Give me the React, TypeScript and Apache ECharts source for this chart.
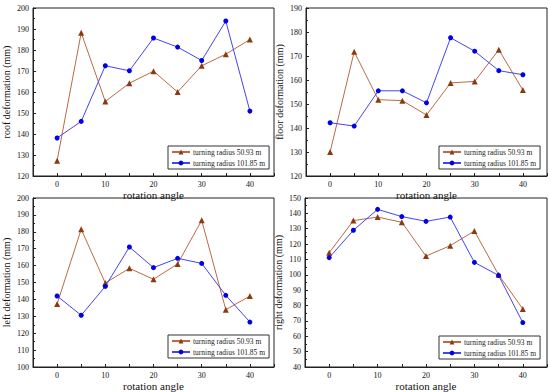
import React, { useEffect, useRef } from "react";
import * as echarts from "echarts";

const angles = [0, 5, 10, 15, 20, 25, 30, 35, 40];
const seriesNames = ["turning radius 50.93 m", "turning radius 101.85 m"];

const roof50 = [127.3, 188.2, 155.5, 164.2, 169.9, 160.0, 172.5, 178.0, 185.0];
const roof101 = [138.1, 146.0, 172.5, 170.1, 185.7, 181.4, 175.0, 193.8, 150.9];

const floor50 = [130.0, 171.8, 151.8, 151.4, 145.4, 158.8, 159.4, 172.6, 155.8];
const floor101 = [142.2, 140.8, 155.5, 155.5, 150.5, 177.6, 172.0, 163.9, 162.2];

const left50 = [137.3, 181.5, 149.7, 158.4, 151.9, 161.0, 186.8, 133.9, 142.0];
const left101 = [142.0, 130.6, 147.7, 171.0, 158.8, 164.3, 161.3, 142.4, 126.6];

const right50 = [114.4, 135.3, 137.6, 134.2, 112.2, 119.0, 128.5, 100.0, 77.8];
const right101 = [111.2, 129.0, 142.6, 137.9, 134.8, 137.6, 108.1, 99.6, 68.9];

const panels = [
  { yName: "roof deformation (mm)", yMin: 120, yMax: 200, a: roof50, b: roof101 },
  { yName: "floor deformation (mm)", yMin: 120, yMax: 190, a: floor50, b: floor101 },
  { yName: "left deformation (mm)", yMin: 100, yMax: 200, a: left50, b: left101 },
  { yName: "right deformation (mm)", yMin: 40, yMax: 150, a: right50, b: right101 },
];

const xName = "rotation angle";

const FONT = "'Times New Roman', 'Liberation Serif', serif";

export default function App() {
  const ref = useRef<HTMLDivElement>(null);
  useEffect(() => {
    document.body.style.margin = "0";
    const chart = echarts.init(ref.current!, null, { renderer: "svg" });
    const grids = [
      { left: 33, top: 8, width: 241, height: 168 },
      { left: 306, top: 8, width: 243, height: 168 },
      { left: 33, top: 198, width: 241, height: 169 },
      { left: 305, top: 198, width: 244, height: 169 },
    ];
    const legendPos = [
      { left: 168, top: 146 },
      { left: 439, top: 146 },
      { left: 168, top: 335 },
      { left: 439, top: 336 },
    ];
    const axisLine = { show: true, onZero: false, lineStyle: { color: "#222", width: 1 } };
    const xAxis = panels.map((_, i) => ({
      type: "value",
      gridIndex: i,
      min: -5,
      max: 45,
      interval: 5,
      name: xName,
      nameLocation: "middle",
      nameGap: 13,
      nameTextStyle: { fontFamily: FONT, fontSize: 11, color: "#111" },
      axisLine,
      axisTick: { show: true, inside: true, length: 3, lineStyle: { color: "#222" } },
      axisLabel: {
        fontFamily: FONT,
        fontSize: 8,
        color: "#111",
        margin: 4,
        formatter: (v: number) => (v >= 0 && v <= 40 && v % 10 === 0 ? String(v) : ""),
      },
      splitLine: { show: false },
    }));
    const yAxis = panels.map((p, i) => ({
      type: "value",
      gridIndex: i,
      min: p.yMin,
      max: p.yMax,
      interval: 10,
      name: p.yName,
      nameLocation: "middle",
      nameGap: 22,
      nameTextStyle: { fontFamily: FONT, fontSize: 10, color: "#111" },
      axisLine,
      axisTick: { show: true, inside: true, length: 3, lineStyle: { color: "#222" } },
      minorTick: { show: true, splitNumber: 2, length: 2, lineStyle: { color: "#222" } },
      axisLabel: { fontFamily: FONT, fontSize: 8, color: "#111", margin: 4 },
      splitLine: { show: false },
    }));
    const series: any[] = [];
    panels.forEach((p, i) => {
      series.push({
        type: "line",
        name: seriesNames[0],
        xAxisIndex: i,
        yAxisIndex: i,
        data: angles.map((x, k) => [x, p.a[k]]),
        symbol: "triangle",
        symbolSize: 6,
        lineStyle: { color: "#bb6a45", width: 1 },
        itemStyle: { color: "#8b3a10" },
      });
      series.push({
        type: "line",
        name: seriesNames[1],
        xAxisIndex: i,
        yAxisIndex: i,
        data: angles.map((x, k) => [x, p.b[k]]),
        symbol: "circle",
        symbolSize: 5,
        lineStyle: { color: "#4545f0", width: 1 },
        itemStyle: { color: "#0000e6" },
      });
    });
    chart.setOption({
      animation: false,
      backgroundColor: "#fff",
      grid: grids.map((g) => ({ ...g, show: true, borderColor: "#222", borderWidth: 1, backgroundColor: "transparent" })),
      xAxis,
      yAxis,
      legend: legendPos.map((lp) => ({
        ...lp,
        orient: "vertical",
        data: seriesNames,
        backgroundColor: "#fff",
        borderColor: "#333",
        borderWidth: 1,
        padding: [2, 4, 2, 3],
        itemGap: 3,
        itemWidth: 18,
        itemHeight: 6,
        selectedMode: false,
        textStyle: { fontFamily: FONT, fontSize: 7.5, color: "#222", padding: [0, 0, 0, -2] },
      })),
      series,
    });
    return () => chart.dispose();
  }, []);
  return <div ref={ref} style={{ width: 550, height: 392 }} />;
}
